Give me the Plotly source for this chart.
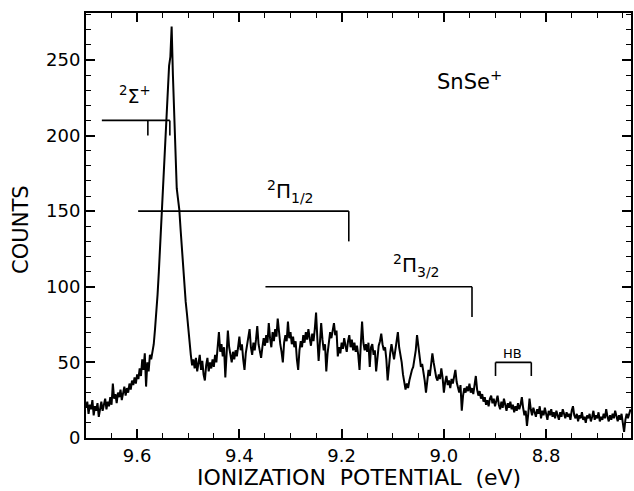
import plotly.graph_objects as go

# ---------------- data ----------------
ev_start = 9.70      # first sample (eV)
ev_step = 0.0025     # sample spacing (eV), scan runs toward lower IP

counts_onset = [20, 24, 16, 22, 19, 25, 15, 21, 18, 23, 14, 20, 24, 18, 22, 26, 19, 24, 21, 27,
                22, 36, 26, 29, 23, 30, 27, 32, 25, 31, 34, 28, 33, 30, 36, 32, 38, 35, 40, 36,
                42, 39, 46, 41, 52, 45, 56, 34, 50, 44, 55]
counts_peak = [52, 56, 62, 72, 82, 95, 110, 128, 146, 163, 180, 198, 214, 228, 246, 252, 272, 240,
               212, 185, 165, 158, 151, 138, 124, 112, 100, 90, 82, 72, 64, 55, 48, 52]
counts_band1 = [46, 53, 44, 50, 55, 45, 51, 42, 38, 48, 53, 44, 50, 46, 52, 47, 55, 50, 61, 70,
                57, 62, 54, 60, 40, 58, 71, 60, 55, 50, 57, 52, 58, 54, 60, 67, 58, 62, 52, 45,
                56, 61, 66, 72, 60, 55, 63, 58, 65, 74, 62, 57, 53, 60, 66, 61, 68, 63, 76, 66,
                60, 70, 64, 72, 67, 79, 68, 62, 57, 50, 63, 68, 64, 77, 66, 70, 62, 67, 60, 64,
                52, 45, 58, 64, 60, 68, 63, 70]
counts_band2 = [65, 72, 66, 61, 69, 64, 72, 83, 66, 51, 63, 76, 65, 58, 62, 44, 56, 64, 70, 66,
                73, 76, 68, 71, 54, 60, 56, 63, 59, 66, 61, 57, 64, 68, 60, 65, 58, 63, 57, 61,
                55, 45, 62, 77, 63, 58, 62, 57, 63, 47, 60, 62, 55, 58, 44, 56, 61, 64, 69, 62,
                58, 60, 52, 38, 50, 56, 62, 57, 52, 58, 63, 70, 60, 55, 50, 42, 35, 32, 36, 33,
                38, 42, 45, 47, 52, 58, 68, 60, 53, 47]
counts_tail1 = [49, 44, 38, 30, 40, 45, 41, 48, 56, 50, 44, 40, 38, 42, 39, 46, 40, 30, 37, 41,
                35, 38, 33, 39, 36, 40, 45, 37, 33, 30, 35, 18, 28, 33, 30, 34, 31, 36, 30, 33,
                29, 35, 41, 32, 28, 31, 26, 29, 24, 27, 22, 25, 21, 26, 28, 23, 26, 21, 25, 28,
                22, 19, 24, 20, 26, 22, 18, 23, 20, 24, 19, 22, 17, 21, 18, 23, 19, 22, 27, 20,
                15, 18, 8]
counts_tail2 = [16, 26, 19, 15, 20, 17, 14, 19, 16, 21, 13, 18, 15, 20, 16, 12, 18, 15, 19, 14,
                17, 13, 18, 15, 12, 17, 14, 19, 15, 13, 17, 14, 16, 12, 18, 21, 15, 13, 16, 11,
                15, 13, 17, 12, 14, 10, 15, 13, 16, 11, 14, 18, 12, 15, 13, 17, 11, 14, 12, 16,
                13, 19, 14, 11, 15, 12, 16, 13, 18, 14, 11, 15, 12, 16, 9, 4, 12, 16, 13, 17, 19]

counts = counts_onset + counts_peak + counts_band1 + counts_band2 + counts_tail1 + counts_tail2
ionization_ev = [round(ev_start - ev_step * i, 5) for i in range(len(counts))]

# state assignment brackets
bracket_labels = ["<sup>2</sup>\u03a3<sup>+</sup>", "<sup>2</sup>\u03a0<sub>1/2</sub>",
                  "<sup>2</sup>\u03a0<sub>3/2</sub>", "HB"]
bracket_level = [210, 150, 100, 50]
bracket_from = [9.669, 9.598, 9.349, 8.899]
bracket_to = [9.536, 9.186, 8.945, 8.829]
bracket_ticks = [[9.579, 9.536], [9.186], [8.945], [8.899, 8.829]]
bracket_tick_bottom = [200, 130, 80, 41]
label_x = [9.604, 9.300, 9.054, 8.865]
label_y = [227, 163, 114, 56]
label_size = [19, 20, 20, 13]

species_label = "SnSe<sup>+</sup>"
species_xy = (8.949, 237)

x_range = [9.70, 8.634]
y_range = [0, 281]
x_ticks = [9.6, 9.4, 9.2, 9.0, 8.8]
y_ticks = [0, 50, 100, 150, 200, 250]

FONT = "DejaVu Sans"

# ---------------- figure ----------------
fig = go.Figure()
fig.add_trace(go.Scatter(x=ionization_ev, y=counts, mode="lines",
                         line=dict(color="black", width=2.0), showlegend=False,
                         hoverinfo="skip"))

for lvl, x0, x1, ticks, bot in zip(bracket_level, bracket_from, bracket_to,
                                   bracket_ticks, bracket_tick_bottom):
    bx = [x0, x1]
    by = [lvl, lvl]
    for t in ticks:
        bx += [None, t, t]
        by += [None, lvl, bot]
    fig.add_trace(go.Scatter(x=bx, y=by, mode="lines", line=dict(color="black", width=1.6),
                             showlegend=False, hoverinfo="skip"))

annotations = []
for txt, lx, ly, sz in zip(bracket_labels, label_x, label_y, label_size):
    annotations.append(dict(x=lx, y=ly, xref="x", yref="y", text=txt, showarrow=False,
                            font=dict(family=FONT, size=sz, color="black"),
                            xanchor="center", yanchor="middle"))
annotations.append(dict(x=species_xy[0], y=species_xy[1], xref="x", yref="y",
                        text=species_label, showarrow=False,
                        font=dict(family=FONT, size=21, color="black"),
                        xanchor="center", yanchor="middle"))
nb = "\u00a0"
annotations.append(dict(x=0.5, y=-0.094, xref="paper", yref="paper",
                        text="IONIZATION" + nb * 2 + "POTENTIAL" + nb * 2 + "(eV)",
                        showarrow=False, font=dict(family=FONT, size=22, color="black"),
                        xanchor="center", yanchor="middle"))
annotations.append(dict(x=-0.119, y=0.49, xref="paper", yref="paper", text="COUNTS",
                        textangle=-90, showarrow=False,
                        font=dict(family=FONT, size=21, color="black"),
                        xanchor="center", yanchor="middle"))

axis_common = dict(showline=True, linecolor="black", linewidth=2, mirror="allticks",
                   ticks="inside", tickcolor="black", tickwidth=1.5, ticklen=9,
                   showgrid=False, zeroline=False,
                   tickfont=dict(family=FONT, size=18, color="black"))

fig.update_layout(
    width=634, height=491,
    margin=dict(l=86, r=1, t=13, b=53),
    paper_bgcolor="white", plot_bgcolor="white",
    xaxis=dict(range=x_range, tickvals=x_ticks, ticktext=[f"{v:.1f}" for v in x_ticks],
               minor=dict(dtick=0.05, tick0=9.6, ticks="inside", ticklen=5,
                          tickcolor="black", tickwidth=1.2),
               **axis_common),
    yaxis=dict(range=y_range, tickvals=y_ticks,
               minor=dict(dtick=10, tick0=0, ticks="inside", ticklen=5,
                          tickcolor="black", tickwidth=1.2),
               **axis_common),
    annotations=annotations,
)

fig.write_html("out.html")
